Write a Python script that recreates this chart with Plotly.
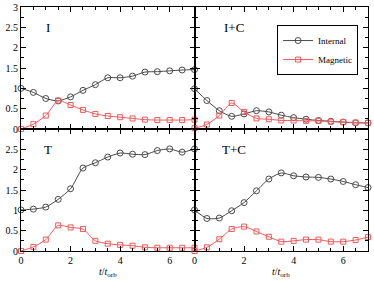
import plotly.graph_objects as go
from plotly.subplots import make_subplots

t = [0, 0.5, 1, 1.5, 2, 2.5, 3, 3.5, 4, 4.5, 5, 5.5, 6, 6.5, 7]

I_int = [1.00, 0.90, 0.75, 0.69, 0.79, 0.95, 1.09, 1.26, 1.26, 1.30, 1.40, 1.41, 1.43, 1.45, 1.46]
I_mag = [0.00, 0.12, 0.33, 0.70, 0.59, 0.47, 0.37, 0.32, 0.29, 0.26, 0.23, 0.22, 0.22, 0.22, 0.23]

IC_int = [0.99, 0.70, 0.45, 0.31, 0.37, 0.45, 0.42, 0.34, 0.28, 0.24, 0.21, 0.19, 0.17, 0.15, 0.15]
IC_mag = [0.02, 0.11, 0.33, 0.64, 0.42, 0.26, 0.24, 0.21, 0.21, 0.20, 0.20, 0.18, 0.17, 0.16, 0.15]

T_int = [1.01, 1.03, 1.08, 1.27, 1.53, 2.04, 2.17, 2.31, 2.41, 2.38, 2.37, 2.47, 2.51, 2.43, 2.51]
T_mag = [0.00, 0.10, 0.28, 0.63, 0.58, 0.54, 0.25, 0.18, 0.15, 0.13, 0.09, 0.08, 0.08, 0.08, 0.08]

TC_int = [1.01, 0.80, 0.81, 0.99, 1.19, 1.48, 1.77, 1.92, 1.85, 1.82, 1.81, 1.77, 1.71, 1.63, 1.56]
TC_mag = [0.00, 0.09, 0.29, 0.54, 0.60, 0.48, 0.35, 0.23, 0.25, 0.28, 0.28, 0.23, 0.23, 0.27, 0.34]

panels = [("I", I_int, I_mag, 1, 1), ("I+C", IC_int, IC_mag, 1, 2),
          ("T", T_int, T_mag, 2, 1), ("T+C", TC_int, TC_mag, 2, 2)]

GRAY = "#4a4a4a"
RED = "#f05a5a"
FONT = "Liberation Serif"

fig = make_subplots(rows=2, cols=2, horizontal_spacing=0, vertical_spacing=0)

for i, (name, yi, ym, r, c) in enumerate(panels):
    fig.add_trace(go.Scatter(x=t, y=yi, mode="lines+markers", name="Internal",
                             line=dict(color=GRAY, width=1, shape="spline", smoothing=0.6),
                             marker=dict(symbol="circle-open", size=6, color=GRAY, line=dict(width=1)),
                             cliponaxis=False, showlegend=(i == 0)), row=r, col=c)
    fig.add_trace(go.Scatter(x=t, y=ym, mode="lines+markers", name="Magnetic",
                             line=dict(color=RED, width=1, shape="spline", smoothing=0.6),
                             marker=dict(symbol="square-open", size=5, color=RED, line=dict(width=1)),
                             cliponaxis=False, showlegend=(i == 0)), row=r, col=c)
    fig.add_annotation(text=name, x=1.6 if c == 2 else 1.1, y=2.5, xref=f"x{i+1 if i else ''}",
                       yref=f"y{i+1 if i else ''}", showarrow=False,
                       font=dict(family=FONT, size=13, color="black"))

common_ax = dict(showline=True, linecolor="black", linewidth=1, mirror="allticks",
                 ticks="inside", ticklen=5, tickcolor="black", showgrid=False, zeroline=False,
                 automargin=False,
                 tickfont=dict(family=FONT, size=10, color="black"))

for r in (1, 2):
    for c in (1, 2):
        fig.update_xaxes(range=[0, 7], dtick=2, tick0=0,
                         minor=dict(ticks="inside", ticklen=3, dtick=0.5, tickcolor="black"),
                         showticklabels=(r == 2), row=r, col=c, **common_ax)
        if r == 1:
            tv = [0, 0.5, 1, 1.5, 2, 2.5, 3]
        else:
            tv = [0, 0.5, 1, 1.5, 2, 2.5]
        fig.update_yaxes(range=[0, 3], tickvals=tv, ticktext=[f"{v:g}" for v in tv],
                         minor=dict(ticks="inside", ticklen=3, dtick=0.25, tickcolor="black"),
                         showticklabels=(c == 1), row=r, col=c, **common_ax)

xt = "<i>t</i>/<i>t</i><sub>orb</sub>"
for xr in ("x3", "x4"):
    fig.add_annotation(text=xt, x=3.5, y=0, xref=xr, yref="paper", yanchor="top",
                       yshift=-13, showarrow=False,
                       font=dict(family=FONT, size=10, color="black"))

fig.update_layout(
    width=374, height=281,
    margin=dict(l=21, r=6, t=7, b=30, autoexpand=False),
    paper_bgcolor="white", plot_bgcolor="white",
    font=dict(family=FONT, size=10, color="black"),
    legend=dict(x=0.738, y=0.926, xanchor="left", yanchor="top",
                bgcolor="white", bordercolor="black", borderwidth=1,
                font=dict(family=FONT, size=9, color="black"),
                itemwidth=30, tracegroupgap=0),
)

fig.write_html("out.html", config={"displayModeBar": False},
               post_script="document.body.style.margin='0';document.body.style.overflow='hidden';")
